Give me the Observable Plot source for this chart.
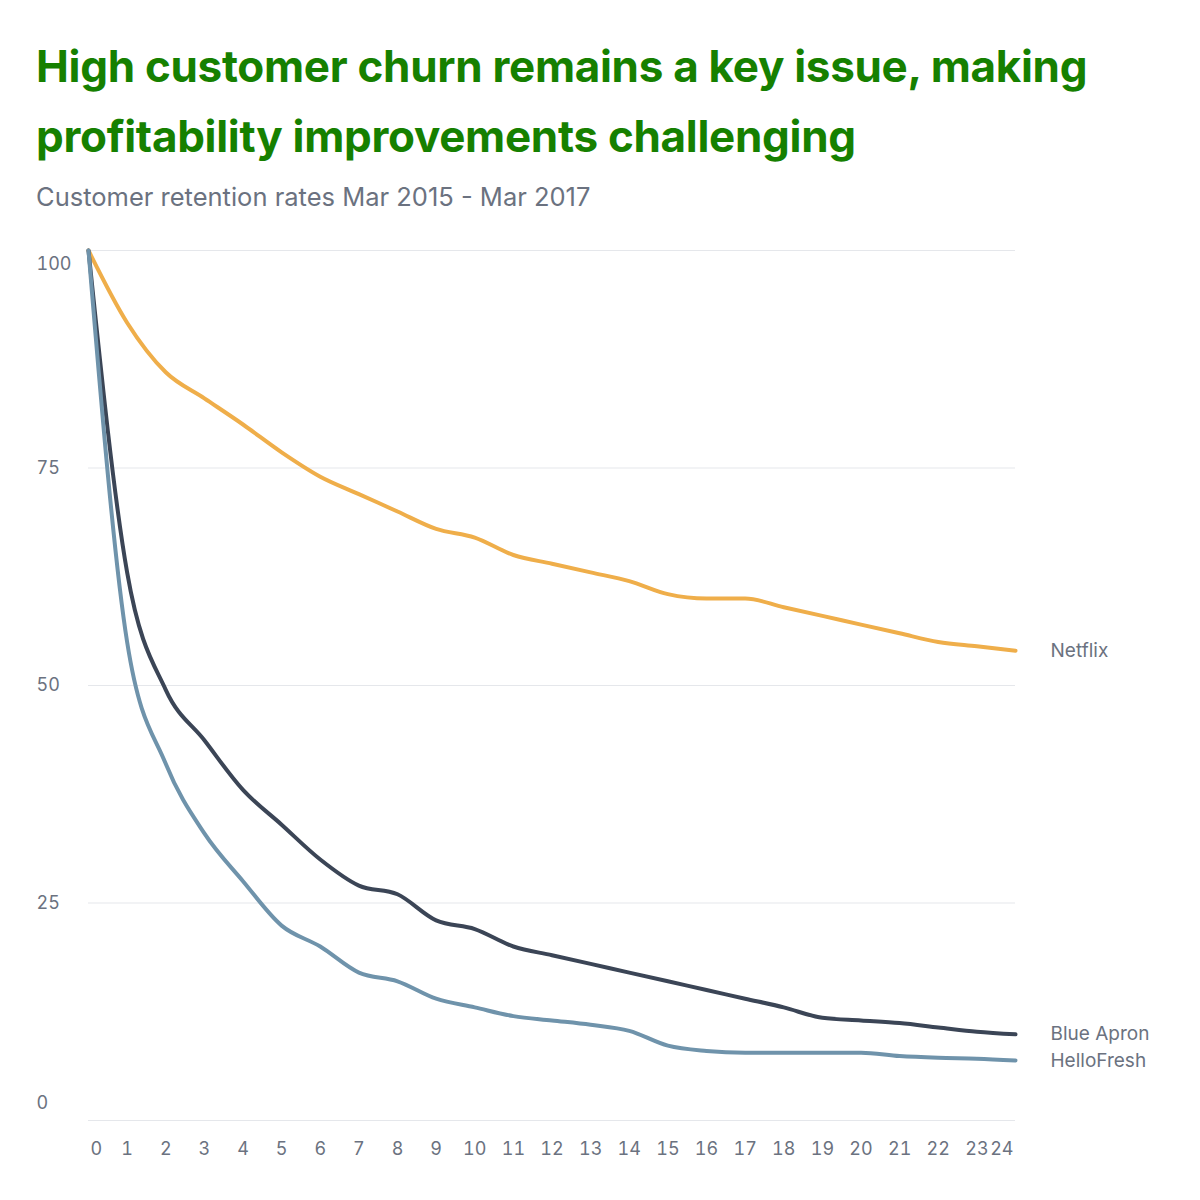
<!DOCTYPE html>
<html><head><meta charset="utf-8">
<script src="https://cdn.jsdelivr.net/npm/d3@7"></script>
<script src="https://cdn.jsdelivr.net/npm/@observablehq/plot@0.6"></script>
<style>
body{margin:0;background:#fff;font-family:Inter,"Noto Sans",sans-serif}
#head{height:230px;padding:0 36px;box-sizing:border-box;overflow:hidden}
h1{margin:0;padding-top:31px;font-size:44px;line-height:70px;color:#168000;font-weight:700;letter-spacing:-0.3px}
.sub{font-size:25.5px;color:#6b7280;margin-top:10px}
</style></head><body>
<div id="head"><h1>High customer churn remains a key issue, making profitability improvements challenging</h1>
<div class="sub">Customer retention rates Mar 2015 - Mar 2017</div></div>
<div id="chart"></div>
<script>
const months = d3.range(0,25);
const netflix = [100,91.7,86,83,80,76.8,74,72,70,68,67,65,64,63,62,60.5,60,60,59,58,57,56,55,54.5,54];
const blueApron = [100,63,49.5,43.7,38,34,30,27,26,23,22,20,19,18,17,16,15,14,13,11.8,11.5,11.2,10.7,10.2,9.9];
const helloFresh = [100,55,41,33,27.5,22.4,20,17,16,14,13,12,11.5,11,10.3,8.6,8,7.8,7.8,7.8,7.8,7.4,7.2,7.1,6.9];
const series = [["Netflix",netflix,"#efae4a"],["Blue Apron",blueApron,"#3b4556"],["HelloFresh",helloFresh,"#6f93ab"]];
const data = series.flatMap(([name,vals])=>vals.map((v,i)=>({name,month:months[i],value:v})));
const ends = data.filter(d=>d.month===24);
const colorDomain = series.map(s=>s[0]), colorRange = series.map(s=>s[2]);
const gray="#6b7280";
const ax = {tickSize:0,tickPadding:22,fill:gray,fontSize:18,label:null};
const ay = {tickSize:0,textAnchor:"start",dx:-52,fill:gray,fontSize:18,tickPadding:0,label:null};
const chart = Plot.plot({
  width:1200,height:970,marginTop:20,marginBottom:80,marginLeft:88,marginRight:185,
  style:{fontFamily:"Inter, 'Noto Sans', sans-serif",fontSize:"18px",color:gray},
  x:{domain:[0,24],axis:null,label:null},
  y:{domain:[0,100],axis:null,label:null},
  color:{domain:colorDomain,range:colorRange},
  marks:[
    Plot.gridY([25,50,75,100],{stroke:"#e5e7eb",strokeOpacity:1}),
    Plot.ruleY([0],{stroke:"#e5e7eb"}),
    Plot.axisY([25,50,75],ay),
    Plot.axisY([100],{...ay,dy:14}),
    Plot.axisY([0],{...ay,dy:-17}),
    Plot.axisX([0],{...ax,textAnchor:"start",dx:2}),
    Plot.axisX(months.slice(1,24),ax),
    Plot.axisX([24],{...ax,textAnchor:"end",dx:-2}),
    Plot.line(data,{x:"month",y:"value",z:"name",stroke:"name",strokeWidth:4,curve:"monotone-x"}),
    Plot.text(ends,{x:"month",y:"value",text:"name",textAnchor:"start",dx:35,fill:gray,fontSize:19})
  ]
});
document.getElementById("chart").append(chart);
</script></body></html>
